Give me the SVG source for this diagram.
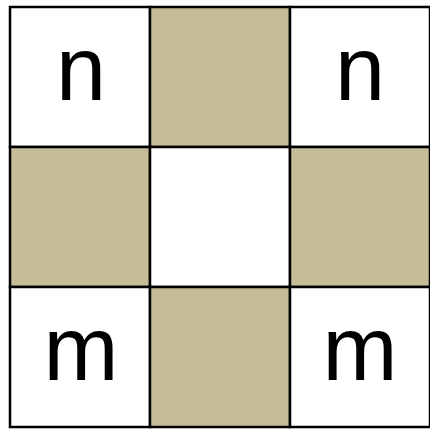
<svg xmlns="http://www.w3.org/2000/svg" width="430" height="430" viewBox="0 0 430 430">
<style>
.w{fill:#ffffff;stroke:#000;stroke-width:2.5}
.t{fill:#c4bd97;stroke:#000;stroke-width:2.5}
.l{font-family:"Liberation Sans",Arial,sans-serif;font-size:90px;fill:#000;text-anchor:middle}
</style>
<rect x="0" y="0" width="430" height="430" fill="#fff"/>
<g id="c00"><rect class="w" x="10" y="7" width="140" height="140"/><text class="l" x="81" y="100">n</text></g>
<g id="c01"><rect class="t" x="150" y="7" width="140" height="140"/></g>
<g id="c02"><rect class="w" x="290" y="7" width="140" height="140"/><text class="l" x="360" y="100">n</text></g>
<g id="c10"><rect class="t" x="10" y="147" width="140" height="140"/></g>
<g id="c11"><rect class="w" x="150" y="147" width="140" height="140"/></g>
<g id="c12"><rect class="t" x="290" y="147" width="140" height="140"/></g>
<g id="c20"><rect class="w" x="10" y="287" width="140" height="140"/><text class="l" x="81" y="380">m</text></g>
<g id="c21"><rect class="t" x="150" y="287" width="140" height="140"/></g>
<g id="c22"><rect class="w" x="290" y="287" width="140" height="140"/><text class="l" x="360" y="380">m</text></g>
</svg>
